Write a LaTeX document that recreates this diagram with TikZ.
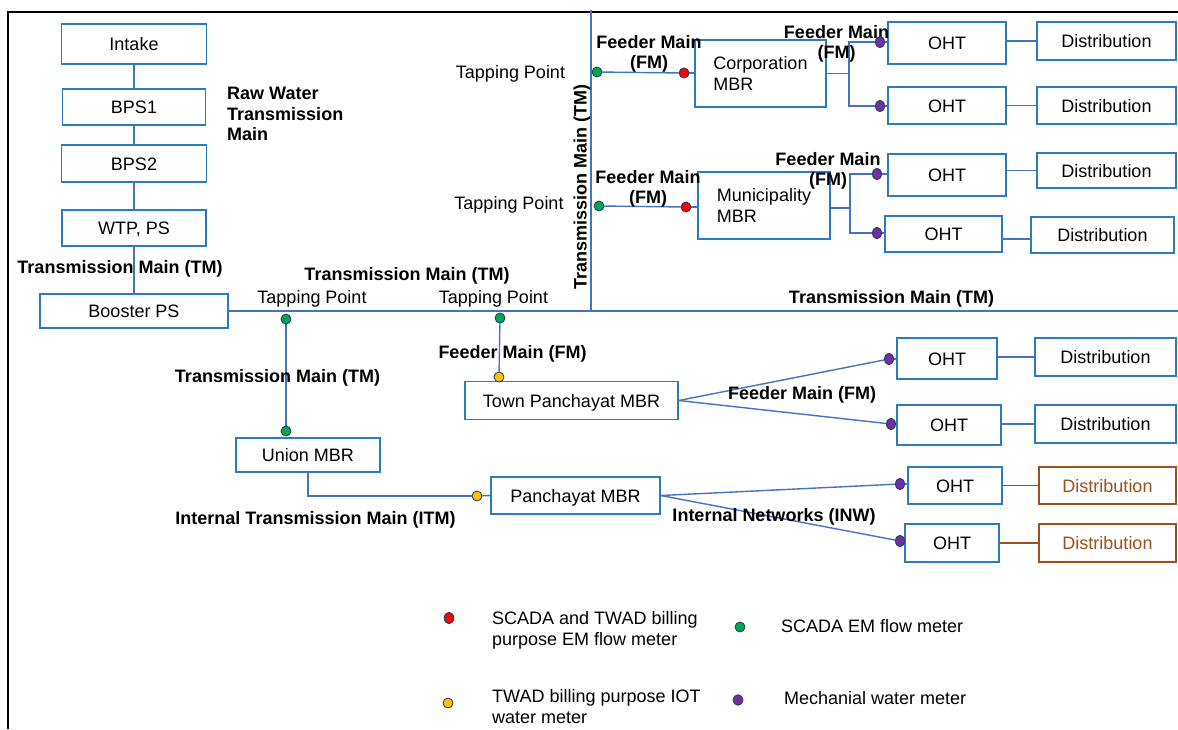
\documentclass[tikz,border=0pt]{standalone}
\usepackage{fontspec}
\setmainfont{Liberation Sans}
\usepackage{tikz}
\usetikzlibrary{shapes.geometric,backgrounds}
\definecolor{pipe}{HTML}{4472C4}
\definecolor{boxline}{HTML}{2A7BC4}
\definecolor{rust}{HTML}{9E4F1C}
\definecolor{mgreen}{HTML}{00A650}
\definecolor{mred}{HTML}{FF0000}
\definecolor{myellow}{HTML}{FFC000}
\definecolor{mpurple}{HTML}{7030A0}
\definecolor{rim}{HTML}{203864}
\tikzset{boxbase/.style={draw=boxline,line width=1.6pt,inner sep=1pt,font=\fontsize{18}{21}\selectfont},
  box/.style={boxbase,text height=13pt,text depth=0pt},
  mbox/.style={boxbase,align=left},
  lbl/.style={font=\fontsize{18}{21}\selectfont,inner sep=0pt,text height=13pt,text depth=0pt},
  blbl/.style={font=\bfseries\fontsize{18}{20.5}\selectfont,inner sep=0pt,text height=13pt,text depth=0pt},
  bblk/.style={font=\bfseries\fontsize{18}{20.5}\selectfont,inner sep=0pt,align=center},
  trunk/.style={pipe,line width=2.6pt},
  feed/.style={pipe,line width=1.4pt},
  meter/.style={circle,draw=rim,line width=0.8pt,inner sep=0pt,minimum size=10pt},
  green meter/.style={meter,fill=mgreen},
  red meter/.style={meter,fill=mred},
  yellow meter/.style={meter,fill=myellow},
  purple meter/.style={ellipse,draw=rim,line width=0.8pt,inner sep=0pt,minimum width=9pt,minimum height=11.5pt,fill=mpurple}}

\begin{document}
\begin{tikzpicture}[x=1pt,y=-1pt]
\useasboundingbox (0,0) rectangle (1178,729);
\draw[black,line width=1.5pt] (8,729) -- (8,12) -- (1178,12);
% raw water chain
\node[box,minimum width=145pt,minimum height=40pt] (intake) at (134,44) {Intake};
\node[box,minimum width=143pt,minimum height=36pt] (bpsone) at (134,107) {BPS1};
\node[box,minimum width=145pt,minimum height=37pt] (bpstwo) at (134,163.5) {BPS2};
\node[box,minimum width=144pt,minimum height=36pt] (wtp) at (134,228) {WTP, PS};
\node[box,minimum width=188pt,minimum height=34pt] (booster) at (134,311) {Booster PS};
\draw[trunk] (intake) -- (bpsone); \draw[trunk] (bpsone) -- (bpstwo);
\draw[trunk] (bpstwo) -- (wtp); \draw[trunk] (wtp) -- (booster);
\node[bblk,align=left,anchor=west] (rawlbl) at (227,114) {Raw Water\\Transmission\\Main};
\node[blbl] (tmA) at (120,267) {Transmission Main (TM)};
% trunk mains
\coordinate (eastend) at (1178,311);
\coordinate (jn) at (591,311);
\coordinate (northend) at (591,10);
\draw[trunk] (booster.east) -- (eastend);
\draw[trunk] (northend) -- (jn);
\node[blbl] (tmB) at (407,274) {Transmission Main (TM)};
\node[blbl,rotate=90] (tmC) at (580,187) {Transmission Main (TM)};
\node[blbl] (tmD) at (891.5,297) {Transmission Main (TM)};
\node[lbl] (tapA) at (312,297) {Tapping Point};
\node[lbl] (tapB) at (493.5,297) {Tapping Point};
\node[lbl] (tapC) at (510.5,72) {Tapping Point};
\node[lbl] (tapD) at (509,203) {Tapping Point};
% corporation
\node[mbox,minimum width=131pt,minimum height=67pt] (corp) at (760.5,73.5) {Corporation\\MBR};
\node[bblk] (fmA) at (649,54) {Feeder Main\\(FM)};
\node[green meter] (tpU) at (597,72) {};
\node[red meter] (redU) at (684,73) {};
\node[box,minimum width=118pt,minimum height=42pt] (ohtA1) at (947,43) {OHT};
\node[box,minimum width=118pt,minimum height=37pt] (ohtA2) at (947,105.5) {OHT};
\node[box,minimum width=139pt,minimum height=38pt] (distA1) at (1106.5,41) {Distribution};
\node[box,minimum width=139pt,minimum height=37pt] (distA2) at (1106.5,105.5) {Distribution};
\node[bblk] (fmB) at (836.5,44) {Feeder Main\\(FM)};
\node[purple meter] (pA1) at (880,42) {};
\node[purple meter] (pA2) at (880,106) {};
\coordinate (forkA) at (849,73.5);
% municipality
\node[mbox,minimum width=132pt,minimum height=67pt] (muni) at (764,205.5) {Municipality\\MBR};
\node[bblk] (fmC) at (648,189) {Feeder Main\\(FM)};
\node[green meter] (tpL) at (599,206) {};
\node[red meter] (redL) at (686,207) {};
\node[box,minimum width=118pt,minimum height=42pt] (ohtB1) at (947,175) {OHT};
\node[box,minimum width=117pt,minimum height=36pt] (ohtB2) at (943.5,234) {OHT};
\node[box,minimum width=139pt,minimum height=35pt] (distB1) at (1106.5,170.5) {Distribution};
\node[box,minimum width=143pt,minimum height=36pt] (distB2) at (1102.5,235) {Distribution};
\node[bblk] (fmD) at (828,171) {Feeder Main\\(FM)};
\node[purple meter] (pB1) at (877,174) {};
\node[purple meter] (pB2) at (877,233) {};
\coordinate (forkB) at (850,208);
% town panchayat and union
\node[box,minimum width=213pt,minimum height=38pt] (town) at (571.5,400.5) {Town Panchayat MBR};
\node[box,minimum width=144pt,minimum height=34pt] (union) at (308,455) {Union MBR};
\node[box,minimum width=169pt,minimum height=37pt] (panch) at (575.5,495.5) {Panchayat MBR};
\node[green meter] (tap1) at (286,319) {};
\node[green meter] (tap1b) at (286,431) {};
\node[green meter] (tap2) at (500,318) {};
\node[yellow meter] (townY) at (499,377) {};
\node[yellow meter] (panchY) at (477,496) {};
\node[blbl] (fmE) at (512.5,352) {Feeder Main (FM)};
\node[blbl] (tmE) at (277.5,376) {Transmission Main (TM)};
\node[blbl] (itm) at (315.5,518) {Internal Transmission Main (ITM)};
\node[box,minimum width=100pt,minimum height=41pt] (ohtC1) at (947,358.5) {OHT};
\node[box,minimum width=104pt,minimum height=40pt] (ohtC2) at (949,425) {OHT};
\node[box,minimum width=141pt,minimum height=38pt] (distC1) at (1105.5,357) {Distribution};
\node[box,minimum width=141pt,minimum height=38pt] (distC2) at (1105.5,424) {Distribution};
\node[box,minimum width=94pt,minimum height=37pt] (ohtD1) at (955,485.5) {OHT};
\node[box,minimum width=94pt,minimum height=38pt] (ohtD2) at (952,543) {OHT};
\node[box,draw=rust,text=rust,minimum width=137pt,minimum height=37pt] (distD1) at (1107.5,485.5) {Distribution};
\node[box,draw=rust,text=rust,minimum width=137pt,minimum height=38pt] (distD2) at (1107.5,543) {Distribution};
\node[blbl] (fmF) at (802,393) {Feeder Main (FM)};
\node[blbl] (inw) at (774,515) {Internal Networks (INW)};
\node[purple meter] (pC1) at (889,359) {};
\node[purple meter] (pC2) at (891,424) {};
\node[purple meter] (pD1) at (900,484) {};
\node[purple meter] (pD2) at (900,541) {};
% connectors, kept under the meters
\begin{pgfonlayer}{background}
\draw[feed] (tpU) -- (redU); \draw[feed] (redU) -- (corp.west |- redU);
\draw[feed] (corp.east) -- (forkA);
\draw[feed] (pA1) -| (forkA) |- (pA2);
\draw[feed] (pA1) -- (ohtA1.west |- pA1); \draw[feed] (pA2) -- (ohtA2.west |- pA2);
\draw[feed] (distA1.west) -- (distA1.west -| ohtA1.east);
\draw[feed] (distA2.west) -- (distA2.west -| ohtA2.east);
\draw[feed] (tpL) -- (redL); \draw[feed] (redL) -- (muni.west |- redL);
\draw[feed] (muni.east |- forkB) -- (forkB);
\draw[feed] (pB1) -| (forkB) |- (pB2);
\draw[feed] (pB1) -- (ohtB1.west |- pB1); \draw[feed] (pB2) -- (ohtB2.west |- pB2);
\draw[feed] (distB1.west) -- (distB1.west -| ohtB1.east);
\draw[feed] ([yshift=-4pt]distB2.west) -- ([yshift=-4pt]distB2.west -| ohtB2.east);
\draw[feed] (tap1) -- (tap1b);
\draw[feed] (tap2) -- (townY);
\draw[feed] (union.south) |- (panchY); \draw[feed] (panchY) -- (panch.west);
\draw[feed] (town.east) -- (pC1); \draw[feed] (town.east) -- (pC2);
\draw[feed] (pC1) -- (ohtC1.west |- pC1); \draw[feed] (pC2) -- (ohtC2.west |- pC2);
\draw[feed] (distC1.west) -- (distC1.west -| ohtC1.east);
\draw[feed] (distC2.west) -- (distC2.west -| ohtC2.east);
\draw[feed] (panch.east) -- (pD1); \draw[feed] (panch.east) -- (pD2);
\draw[feed] (pD1) -- (ohtD1.west |- pD1); \draw[feed] (pD2) -- (ohtD2.west |- pD2);
\draw[rust,line width=1.4pt] (distD1.west) -- (distD1.west -| ohtD1.east);
\draw[rust,line width=1.4pt] (distD2.west) -- (distD2.west -| ohtD2.east);
\end{pgfonlayer}
% legend
\node[red meter,minimum width=9.5pt,minimum height=11.5pt,ellipse] (keyred) at (449,618) {};
\node[lbl,align=left,anchor=west,text height=,text depth=] (keyredtxt) at (492,630) {SCADA and TWAD billing\\purpose EM flow meter};
\node[green meter] (keygreen) at (740,627) {};
\node[lbl,anchor=west] (keygreentxt) at (781,626) {SCADA EM flow meter};
\node[yellow meter] (keyyellow) at (448,703) {};
\node[lbl,align=left,anchor=west,text height=,text depth=] (keyyellowtxt) at (492,706.5) {TWAD billing purpose IOT\\water meter};
\node[purple meter,minimum width=10pt,minimum height=10.5pt] (keypurple) at (738,700) {};
\node[lbl,anchor=west] (keypurpletxt) at (784,698) {Mechanial water meter};
\end{tikzpicture}
\end{document}
